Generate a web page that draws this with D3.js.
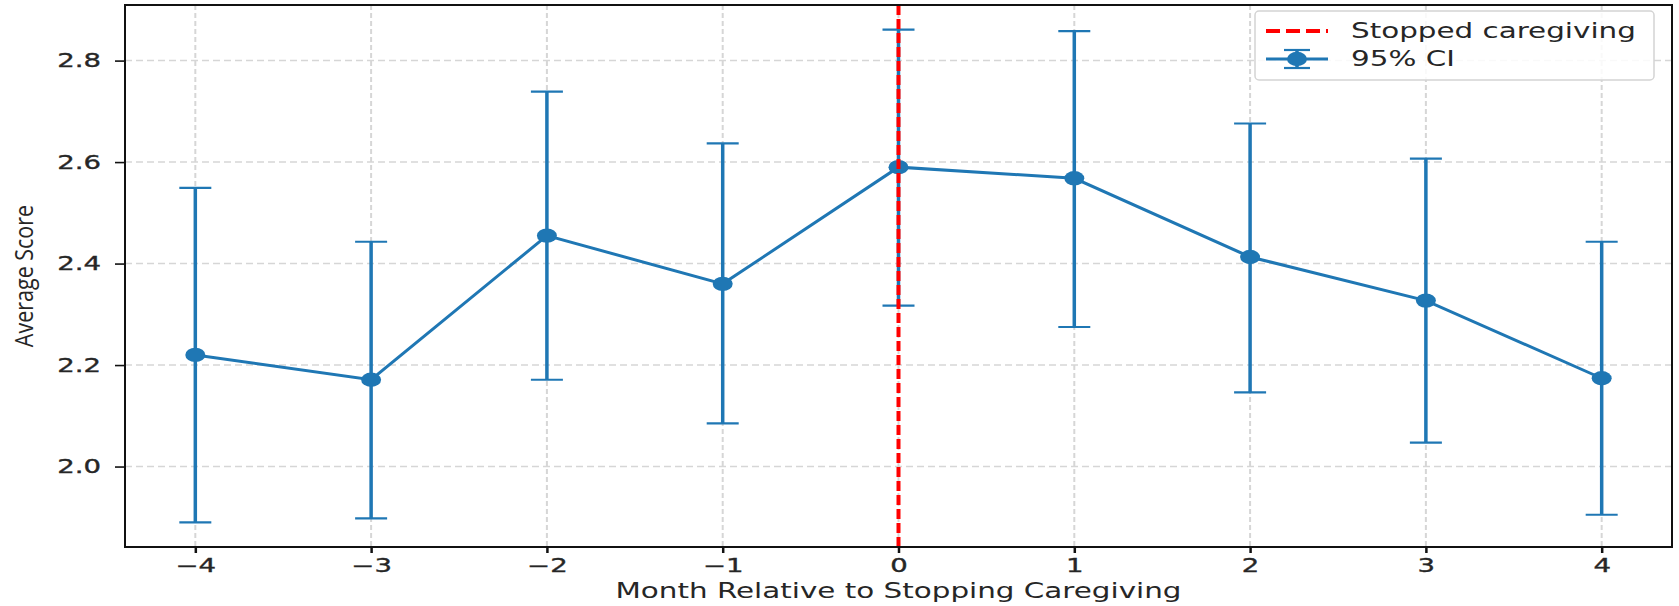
<!DOCTYPE html>
<html>
<head>
<meta charset="utf-8">
<script src="https://cdn.jsdelivr.net/npm/d3@7"></script>
<style>
  body{margin:0;background:#fff;}
  svg{display:block;}
  text{font-family:"DejaVu Sans",sans-serif;fill:#262626;}
</style>
</head>
<body>
<svg id="chart" width="1679" height="606"></svg>
<script>
// ---- data ----
var months = [-4,-3,-2,-1,0,1,2,3,4];
var means  = [2.220,2.171,2.455,2.360,2.590,2.568,2.413,2.327,2.174];
var lower  = [1.890,1.898,2.171,2.085,2.317,2.275,2.146,2.047,1.905];
var upper  = [2.549,2.443,2.739,2.637,2.861,2.858,2.676,2.607,2.443];
var yTicks = [2.0,2.2,2.4,2.6,2.8];
var xTicks = [-4,-3,-2,-1,0,1,2,3,4];
var stopMonth = 0;
var legendLabels = ['Stopped caregiving','95% CI'];

var rows = months.map(function(m,i){
	return {m:m, mean:means[i], lo:lower[i], hi:upper[i]};
});

// picture is stretched sideways, so text is too
var SX = 1.4;
var blue = '#1f77b4';

var pLeft = 125, pRight = 1672, pTop = 5, pBottom = 547;

var svg = d3.select('#chart');

// matplotlib-like 5% padding
var xMin = d3.min(months), xMax = d3.max(months);
var xPad = (xMax-xMin)*0.05;
var xScale = d3.scaleLinear()
.domain([xMin-xPad,xMax+xPad])
.range([pLeft,pRight]);

var yMin = d3.min(lower), yMax = d3.max(upper);
var yPad = (yMax-yMin)*0.05;
var yScale = d3.scaleLinear()
.domain([yMin-yPad,yMax+yPad])
.range([pBottom,pTop]);

// grid
svg.append('g')
.selectAll('line')
.data(yTicks)
.enter()
.append('line')
.attr('x1',pLeft).attr('x2',pRight)
.attr('y1',d=>yScale(d)).attr('y2',d=>yScale(d))
.attr('stroke','#d6d6d6')
.attr('stroke-width',1.5)
.attr('stroke-dasharray','7,4');

svg.append('g')
.selectAll('line')
.data(xTicks)
.enter()
.append('line')
.attr('x1',d=>xScale(d)).attr('x2',d=>xScale(d))
.attr('y1',pTop).attr('y2',pBottom)
.attr('stroke','#d6d6d6')
.attr('stroke-width',2)
.attr('stroke-dasharray','5,3');

// axes
var xAxis = svg.append('g')
.attr('transform','translate(0,'+pBottom+')')
.call(d3.axisBottom(xScale).tickValues(xTicks).tickSize(6).tickPadding(6));

var yAxis = svg.append('g')
.attr('transform','translate('+pLeft+',0)')
.call(d3.axisLeft(yScale).tickValues(yTicks).tickFormat(d3.format('.1f')).tickSize(10).tickPadding(14));

[xAxis,yAxis].forEach(function(ax){
	ax.select('.domain').remove();
	ax.selectAll('.tick line').attr('stroke','#111');
	ax.selectAll('text')
	.style('font-size','19px')
	.attr('fill','#262626')
	.attr('stroke','#262626')
	.attr('stroke-width',0.35)
	.each(function(){
		var t = d3.select(this);
		var x = +t.attr('x') || 0;
		t.attr('x',0).attr('transform','translate('+x+',0) scale(1.45,1)');
	});
});
xAxis.selectAll('.tick line').attr('stroke-width',2.5);
yAxis.selectAll('.tick line').attr('stroke-width',1.6);

// error bars
var bars = svg.append('g');

bars.selectAll('.err')
.data(rows)
.enter()
.append('line')
.attr('class','err')
.attr('x1',d=>xScale(d.m)).attr('x2',d=>xScale(d.m))
.attr('y1',d=>yScale(d.lo)).attr('y2',d=>yScale(d.hi))
.attr('stroke',blue)
.attr('stroke-width',3.5);

['lo','hi'].forEach(function(k){
	bars.selectAll('.cap-'+k)
	.data(rows)
	.enter()
	.append('line')
	.attr('x1',d=>xScale(d.m)-16).attr('x2',d=>xScale(d.m)+16)
	.attr('y1',d=>yScale(d[k])).attr('y2',d=>yScale(d[k]))
	.attr('stroke',blue)
	.attr('stroke-width',2.2);
});

var lineGen = d3.line()
.x(d=>xScale(d.m))
.y(d=>yScale(d.mean));

bars.append('path')
.datum(rows)
.attr('d',lineGen)
.attr('fill','none')
.attr('stroke',blue)
.attr('stroke-width',3);

bars.selectAll('.dot')
.data(rows)
.enter()
.append('ellipse')
.attr('cx',d=>xScale(d.m))
.attr('cy',d=>yScale(d.mean))
.attr('rx',10)
.attr('ry',7.2)
.attr('fill',blue);

// stopped caregiving line
svg.append('line')
.attr('x1',xScale(stopMonth)).attr('x2',xScale(stopMonth))
.attr('y1',pTop).attr('y2',pBottom)
.attr('stroke','red')
.attr('stroke-width',4)
.attr('stroke-dasharray','10,4');

// frame
svg.append('rect')
.attr('x',pLeft).attr('y',pTop)
.attr('width',pRight-pLeft).attr('height',pBottom-pTop)
.attr('fill','none')
.attr('stroke','#111')
.attr('stroke-width',2);

// axis labels
svg.append('text')
.text('Month Relative to Stopping Caregiving')
.attr('text-anchor','middle')
.attr('transform','translate('+((pLeft+pRight)/2)+',598) scale('+SX+',1)')
.style('font-size','21px');

svg.append('text')
.text('Average Score')
.attr('text-anchor','middle')
.attr('transform','translate(33,'+((pTop+pBottom)/2)+') scale(1.2,1) rotate(-90)')
.style('font-family','"Open Sans",sans-serif')
.style('font-size','21.5px');

// legend
var lg = svg.append('g');

lg.append('rect')
.attr('x',1255).attr('y',11)
.attr('width',399).attr('height',69)
.attr('rx',4)
.attr('fill','rgba(255,255,255,0.85)')
.attr('stroke','#d4d4d4')
.attr('stroke-width',1.5);

lg.append('line')
.attr('x1',1266).attr('x2',1328)
.attr('y1',31).attr('y2',31)
.attr('stroke','red')
.attr('stroke-width',4)
.attr('stroke-dasharray','14,6');

lg.append('line')
.attr('x1',1266).attr('x2',1328)
.attr('y1',59).attr('y2',59)
.attr('stroke',blue)
.attr('stroke-width',3);
lg.append('line')
.attr('x1',1297).attr('x2',1297)
.attr('y1',50).attr('y2',68)
.attr('stroke',blue)
.attr('stroke-width',3.5);
[50,68].forEach(function(cy){
	lg.append('line')
	.attr('x1',1284).attr('x2',1310)
	.attr('y1',cy).attr('y2',cy)
	.attr('stroke',blue)
	.attr('stroke-width',2.2);
});
lg.append('ellipse')
.attr('cx',1297).attr('cy',59)
.attr('rx',10).attr('ry',7.2)
.attr('fill',blue);

lg.selectAll('.lbl')
.data(legendLabels)
.enter()
.append('text')
.text(d=>d)
.attr('transform',(d,i)=>'translate(1351,'+(38+i*28)+') scale('+SX+',1)')
.style('font-size','21px');
</script>
</body>
</html>
